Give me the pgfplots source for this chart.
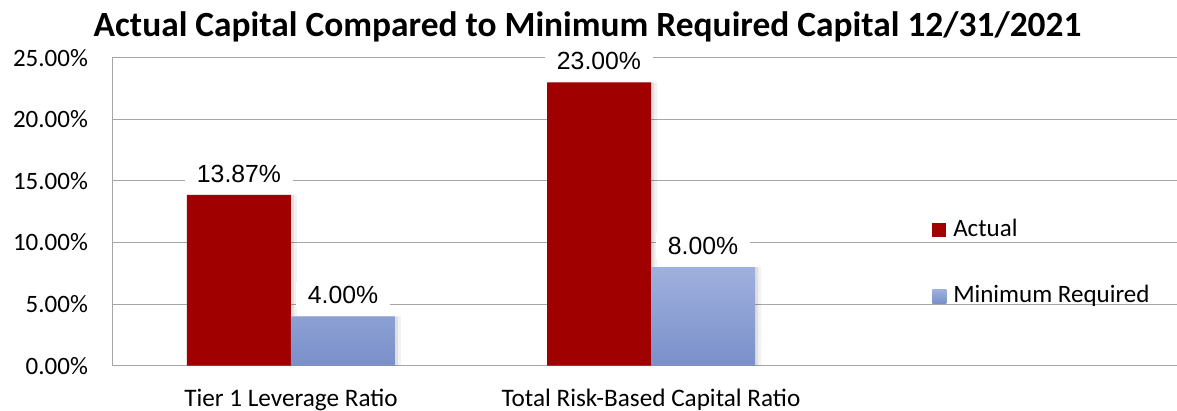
\documentclass[border=0pt]{standalone}
\usepackage{pgfplots}
\pgfplotsset{compat=1.18}
\usepackage{fontspec}
\setmainfont{Carlito}
\newfontfamily\arialfont{Liberation Sans}

\definecolor{actred}{HTML}{A00000}
\definecolor{minTop}{HTML}{A0B0DE}
\definecolor{minBot}{HTML}{7A90CA}
\definecolor{gridgray}{HTML}{A6A6A6}

\begin{document}
\begin{tikzpicture}
\path[use as bounding box] (0,0) rectangle (588.5pt,205.5pt);

\node[anchor=base, font=\bfseries\fontsize{17.7}{21}\selectfont] at (293.75pt,187pt)
  {Actual Capital Compared to Minimum Required Capital 12/31/2021};

\begin{axis}[
    at={(56pt,22.65pt)}, anchor=south west,
    scale only axis,
    width=532.5pt, height=154pt,
    xmin=-0.4972, xmax=2.4611,
    ymin=0, ymax=25,
    ybar, bar width=52pt,
    /pgf/number format/assume math mode=true,
    ytick={0,5,10,15,20,25},
    yticklabel={\pgfmathprintnumber[fixed,fixed zerofill,precision=2]{\tick}\%},
    xtick={0,1},
    xticklabels={Tier 1 Leverage Ratio, Total Risk-Based Capital Ratio},
    major tick length=0pt,
    tick style={draw=none},
    xticklabel style={font=\fontsize{12.6}{15}\selectfont, anchor=base, yshift=-20.6pt},
    yticklabel style={font=\fontsize{12.5}{15}\selectfont, anchor=east, xshift=-8.5pt},
    ymajorgrids,
    grid style={gridgray, line width=0.5pt},
    axis x line=bottom, axis y line=left,
    axis line style={-, gridgray, line width=0.5pt},
    every node near coord/.append style={font=\arialfont\fontsize{12.4}{14}\selectfont,
        fill=white, inner xsep=6pt, inner ysep=2pt, anchor=south, yshift=4pt, text=black},
    legend style={at={(0.7698,0.336)}, anchor=west, draw=none, fill=none,
        font=\fontsize{12.5}{15}\selectfont, row sep=16pt, inner sep=0pt,
        nodes={inner sep=3.5pt}},
    legend cell align=left,
]
% soft shadows, drawn first
\addplot[forget plot, fill=black, fill opacity=0.08, draw=none, bar shift=-24.5pt]
    coordinates {(0,13.87) (1,23.00)};
\addplot[forget plot, fill=black, fill opacity=0.08, draw=none, bar shift=27.5pt]
    coordinates {(0,4.00) (1,8.00)};
\addplot[forget plot, fill=black, fill opacity=0.05, draw=none, bar shift=-23pt]
    coordinates {(0,13.87) (1,23.00)};
\addplot[forget plot, fill=black, fill opacity=0.05, draw=none, bar shift=29pt]
    coordinates {(0,4.00) (1,8.00)};

\addplot[fill=actred, draw=none, bar shift=-26pt,
    nodes near coords={\pgfmathprintnumber[fixed,fixed zerofill,precision=2]{\pgfplotspointmeta}\%},
    legend image code/.code={\path[fill=actred] (0pt,-4pt) rectangle (7pt,3pt);}]
    coordinates {(0,13.87) (1,23.00)};
\addlegendentry{Actual}

\addplot[top color=minTop, bottom color=minBot, draw=none, bar shift=26pt,
    nodes near coords={\pgfmathprintnumber[fixed,fixed zerofill,precision=2]{\pgfplotspointmeta}\%},
    legend image code/.code={\path[top color=minTop, bottom color=minBot] (0pt,-4pt) rectangle (7pt,3pt);}]
    coordinates {(0,4.00) (1,8.00)};
\addlegendentry{Minimum Required}
\end{axis}
\end{tikzpicture}
\end{document}
